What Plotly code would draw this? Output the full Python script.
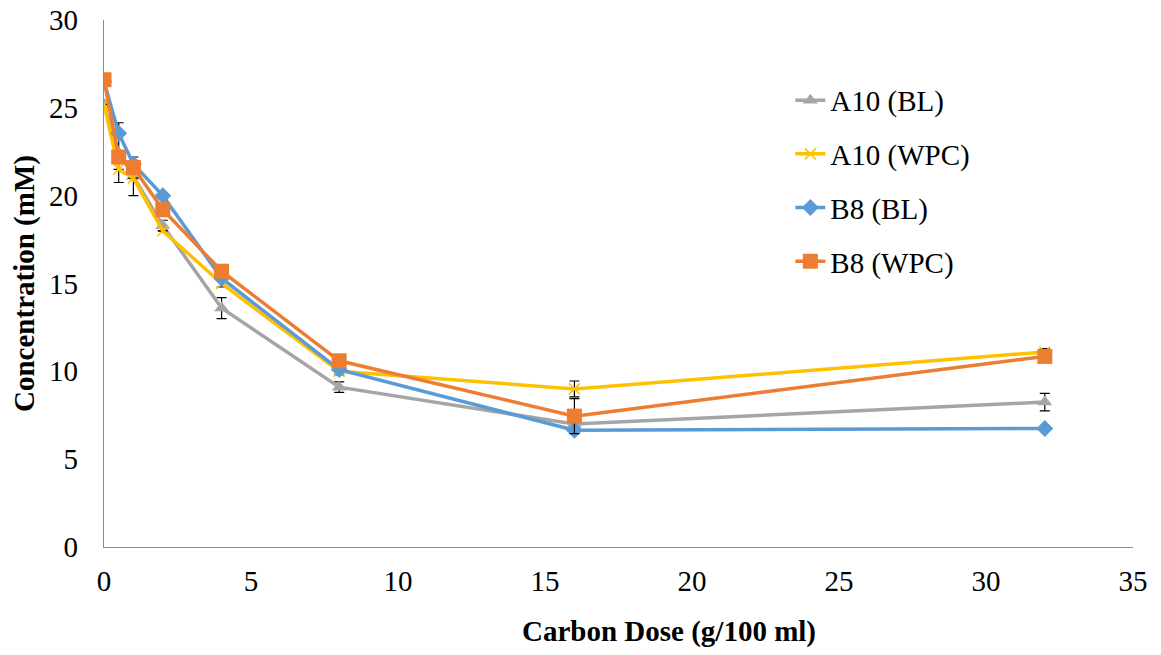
import plotly.graph_objects as go

dose = [0, 0.5, 1, 2, 4, 8, 16, 32]

a10_bl = [25.2, 22.45, 21.1, 18.3, 13.6, 9.1, 7.0, 8.25]
a10_bl_err = [0, 1.7, 1.1, 0.3, 0.6, 0.3, 0, 0.5]

a10_wpc = [25.2, 21.5, 21.0, 18.0, 15.0, 10.0, 9.0, 11.1]
a10_wpc_err = [0, 0, 0, 0, 0.2, 0.2, 0.45, 0.2]

b8_bl = [26.5, 23.55, 21.8, 20.0, 15.3, 10.1, 6.65, 6.75]

b8_wpc = [26.6, 22.2, 21.6, 19.2, 15.7, 10.6, 7.45, 10.85]
b8_wpc_err = [0, 0, 0, 0, 0, 0, 1.0, 0.3]

names = ["A10 (BL)", "A10 (WPC)", "B8 (BL)", "B8 (WPC)"]
colors = ["#A5A5A5", "#FFC000", "#5B9BD5", "#ED7D31"]

FONT = "Liberation Serif, Times New Roman, serif"
FS = 29

fig = go.Figure()

def err(arr):
    return dict(type="data", array=arr, visible=True, color="black", thickness=1.2, width=5)

fig.add_trace(go.Scatter(x=dose, y=a10_bl, name=names[0], mode="lines+markers",
                         line=dict(color=colors[0], width=3.5),
                         marker=dict(symbol="triangle-up", size=13, color=colors[0]),
                         error_y=err(a10_bl_err), legendgroup="g1"))
fig.add_trace(go.Scatter(x=dose, y=a10_wpc, name=names[1], mode="lines+markers",
                         line=dict(color=colors[1], width=3.5),
                         marker=dict(symbol="x-thin", size=11, color=colors[1],
                                     line=dict(color=colors[1], width=1.5)),
                         error_y=err(a10_wpc_err), legendgroup="g2"))
fig.add_trace(go.Scatter(x=dose, y=b8_bl, name=names[2], mode="lines+markers",
                         line=dict(color=colors[2], width=3.5),
                         marker=dict(symbol="diamond", size=13, color=colors[2]),
                         legendgroup="g3"))
fig.add_trace(go.Scatter(x=dose, y=b8_wpc, name=names[3], mode="lines+markers",
                         line=dict(color=colors[3], width=3.5),
                         marker=dict(symbol="square", size=15, color=colors[3]),
                         error_y=err(b8_wpc_err), legendgroup="g4"))

fig.update_layout(
    width=1161, height=655,
    margin=dict(l=104, r=28, t=20, b=108),
    plot_bgcolor="white", paper_bgcolor="white",
    font=dict(family=FONT, size=FS, color="black"),
    showlegend=True,
    legend=dict(x=0.667, y=0.896, xanchor="left", yanchor="top",
                font=dict(family=FONT, size=FS, color="black"),
                tracegroupgap=13, bgcolor="rgba(0,0,0,0)"),
    xaxis=dict(range=[0, 35], tickvals=[0, 5, 10, 15, 20, 25, 30, 35],
               showline=True, linecolor="#8C8C8C", linewidth=1.2,
               showgrid=False, zeroline=False, ticks="",
               ticklabelstandoff=8, automargin=False),
    yaxis=dict(range=[0, 30], tickvals=[0, 5, 10, 15, 20, 25, 30],
               showline=True, linecolor="#8C8C8C", linewidth=1.2,
               showgrid=False, zeroline=False, ticks="",
               ticklabelstandoff=19, automargin=False,
               title=dict(text="<b>Concentration (mM)</b>", standoff=5,
                          font=dict(family=FONT, size=FS))),
    annotations=[dict(text="<b>Carbon Dose (g/100 ml)</b>", xref="paper", yref="paper",
                      x=0.549, y=-0.161, xanchor="center", yanchor="middle",
                      showarrow=False, font=dict(family=FONT, size=FS, color="black"))],
)

fig.write_html("out.html")
